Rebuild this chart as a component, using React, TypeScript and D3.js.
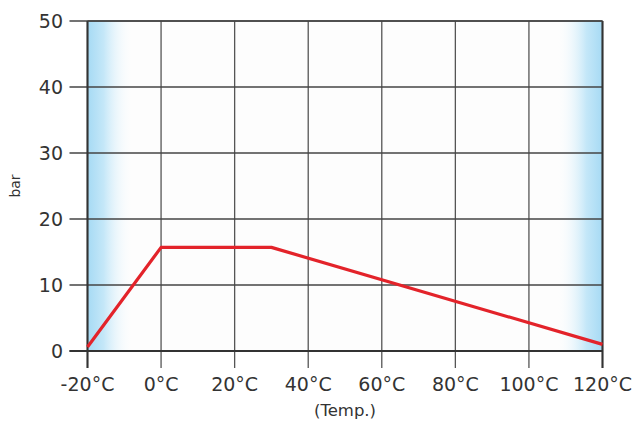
import React from "react";
import * as d3 from "d3";

const temps = [-20, 0, 30, 120];
const pressures = [0.6, 15.7, 15.7, 1.0];
const xTicks = [-20, 0, 20, 40, 60, 80, 100, 120];
const yTicks = [0, 10, 20, 30, 40, 50];

const W = 637, H = 423;
const M = { left: 87.5, right: 602.5, top: 21, bottom: 351 };
const FONT = "'DejaVu Sans', sans-serif";

export default function App() {
  const x = d3.scaleLinear().domain([-20, 120]).range([M.left, M.right]);
  const y = d3.scaleLinear().domain([0, 50]).range([M.bottom, M.top]);
  const line = d3.line<number>().x((_, i) => x(temps[i])).y((d) => y(d));
  const gw = 46;
  return (
    <div style={{ position: "absolute", left: 0, top: 0 }}>
      <svg width={W} height={H} style={{ display: "block" }}>
        <defs>
          <linearGradient id="gl" x1="0" x2="1" y1="0" y2="0">
            <stop offset="0" stopColor="#a6daf4" />
            <stop offset="0.35" stopColor="#c4e7f8" />
            <stop offset="1" stopColor="#ffffff" stopOpacity="0" />
          </linearGradient>
          <linearGradient id="gr" x1="1" x2="0" y1="0" y2="0">
            <stop offset="0" stopColor="#a6daf4" />
            <stop offset="0.35" stopColor="#c4e7f8" />
            <stop offset="1" stopColor="#ffffff" stopOpacity="0" />
          </linearGradient>
        </defs>
        <rect x={0} y={0} width={W} height={H} fill="#fff" />
        <rect x={M.left} y={M.top} width={M.right - M.left} height={M.bottom - M.top} fill="#fdfdfd" />
        <rect x={M.left} y={M.top} width={gw} height={M.bottom - M.top} fill="url(#gl)" />
        <rect x={M.right - gw} y={M.top} width={gw} height={M.bottom - M.top} fill="url(#gr)" />
        {xTicks.map((t) => (
          <line key={"xg" + t} x1={x(t)} x2={x(t)} y1={M.top} y2={M.bottom + 17} stroke="#555" strokeWidth={1.3} />
        ))}
        {yTicks.map((t) => (
          <line key={"yg" + t} x1={M.left - 18} x2={M.right} y1={y(t)} y2={y(t)} stroke="#444" strokeWidth={1.3} />
        ))}
        <line x1={M.left} x2={M.left} y1={M.top} y2={M.bottom + 17} stroke="#333" strokeWidth={2} />
        <line x1={M.right} x2={M.right} y1={M.top} y2={M.bottom + 17} stroke="#333" strokeWidth={2} />
        <line x1={M.left - 18} x2={M.right} y1={M.bottom} y2={M.bottom} stroke="#333" strokeWidth={2} />
        <line x1={M.left} x2={M.right} y1={M.top} y2={M.top} stroke="#444" strokeWidth={1.5} />
        <path d={line(pressures) || ""} fill="none" stroke="#e3232a" strokeWidth={3.2} strokeLinejoin="round" />
        {yTicks.map((t) => (
          <text key={"yl" + t} x={63} y={y(t)} dy="0.35em" textAnchor="end" fontFamily={FONT} fontSize={19} fill="#333">
            {t}
          </text>
        ))}
        {xTicks.map((t) => (
          <text key={"xl" + t} x={x(t)} y={391} textAnchor="middle" fontFamily={FONT} fontSize={19} fill="#333">
            {t + "°C"}
          </text>
        ))}
        <text x={(M.left + M.right) / 2} y={416} textAnchor="middle" fontFamily={FONT} fontSize={16.5} fill="#333">
          (Temp.)
        </text>
        <text transform={`translate(20,${(M.top + M.bottom) / 2}) rotate(-90)`} textAnchor="middle" fontFamily={FONT} fontSize={14} fill="#333">
          bar
        </text>
      </svg>
    </div>
  );
}
